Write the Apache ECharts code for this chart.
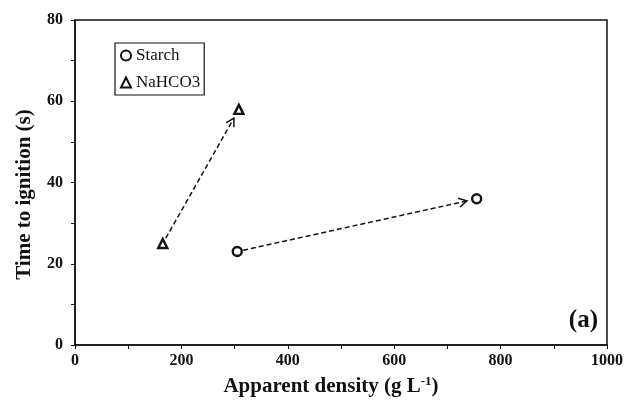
<!DOCTYPE html>
<html>
<head>
<meta charset="utf-8">
<script src="https://cdn.jsdelivr.net/npm/echarts@6/dist/echarts.min.js"></script>
<style>html,body{margin:0;padding:0;background:#fff}#c{width:627px;height:406px}</style>
</head>
<body>
<div id="c"></div>
<script>
const seriesNames = ['Starch', 'NaHCO3'];
const starchX = [305, 755];
const starchY = [23, 36];
const nahco3X = [165, 308];
const nahco3Y = [25, 58];
const xTicks = [0, 200, 400, 600, 800, 1000];
const yTicks = [0, 20, 40, 60, 80];

const font = '"Liberation Serif", "Times New Roman", serif';
const chart = echarts.init(document.getElementById('c'));

function pts(xs, ys) { return xs.map((x, i) => [x, ys[i]]); }

function arrowSeries(xs, ys) {
  return {
    type: 'custom',
    silent: true,
    z: 1,
    data: [[xs[0], ys[0], xs[1], ys[1]]],
    renderItem: function (params, api) {
      const p0 = api.coord([api.value(0), api.value(1)]);
      const p1 = api.coord([api.value(2), api.value(3)]);
      const dx = p1[0] - p0[0], dy = p1[1] - p0[1];
      const L = Math.sqrt(dx * dx + dy * dy);
      const ux = dx / L, uy = dy / L;
      const s = 6, e = 10;
      const a = [p0[0] + ux * s, p0[1] + uy * s];
      const b = [p1[0] - ux * e, p1[1] - uy * e];
      const h = 8, w = 4.5;
      const nx = -uy, ny = ux;
      const c1 = [b[0] - ux * h + nx * w, b[1] - uy * h + ny * w];
      const c2 = [b[0] - ux * h - nx * w, b[1] - uy * h - ny * w];
      return {
        type: 'group',
        children: [
          { type: 'line', shape: { x1: a[0], y1: a[1], x2: b[0], y2: b[1] },
            style: { stroke: '#111', lineWidth: 1.5, lineDash: [5, 3] } },
          { type: 'polyline', shape: { points: [c1, b, c2] },
            style: { stroke: '#111', lineWidth: 1.5, fill: null } }
        ]
      };
    }
  };
}

const axisLabelStyle = { color: '#111', fontFamily: font, fontWeight: 'bold', fontSize: 16 };

chart.setOption({
  animation: false,
  backgroundColor: '#fff',
  grid: { left: 75, right: 20, top: 20, bottom: 61, show: true, borderColor: '#111', borderWidth: 1.5, backgroundColor: 'transparent' },
  legend: {
    orient: 'vertical',
    left: 115, top: 43,
    padding: [4, 4, 4, 5],
    itemGap: 10,
    itemWidth: 10, itemHeight: 10,
    borderColor: '#111', borderWidth: 1.2,
    textStyle: { fontFamily: font, fontSize: 17, color: '#111' },
    data: seriesNames
  },
  xAxis: {
    type: 'value', min: xTicks[0], max: xTicks[xTicks.length - 1], interval: 200,
    name: 'Apparent density (g L{sup|-1})',
    nameLocation: 'middle', nameGap: 30,
    nameTextStyle: { color: '#111', fontFamily: font, fontWeight: 'bold', fontSize: 21,
      padding: [0, 20, 0, 0],
      rich: { sup: { fontFamily: font, fontWeight: 'bold', fontSize: 13, verticalAlign: 'top', padding: [0, 0, 10, 0], color: '#111' } } },
    axisLine: { show: true, lineStyle: { color: '#111', width: 1.5 } },
    axisTick: { show: true, inside: false, length: 4, lineStyle: { color: '#111', width: 1 } },
    minorTick: { show: true, splitNumber: 2, length: 4, lineStyle: { color: '#111', width: 1 } },
    axisLabel: Object.assign({ margin: 8, formatter: v => String(v) }, axisLabelStyle),
    splitLine: { show: false }
  },
  yAxis: {
    type: 'value', min: yTicks[0], max: yTicks[yTicks.length - 1], interval: 20,
    name: 'Time to ignition (s)',
    nameLocation: 'middle', nameGap: 40, nameRotate: 90,
    nameTextStyle: { color: '#111', fontFamily: font, fontWeight: 'bold', fontSize: 21,
      padding: [0, 24, 0, 0] },
    axisLine: { show: true, lineStyle: { color: '#111', width: 1.5 } },
    axisTick: { show: true, inside: false, length: 4, lineStyle: { color: '#111', width: 1 } },
    minorTick: { show: true, splitNumber: 2, length: 4, lineStyle: { color: '#111', width: 1 } },
    axisLabel: Object.assign({ margin: 12, formatter: v => String(v) }, axisLabelStyle),
    splitLine: { show: false }
  },
  graphic: [{
    type: 'text', right: 29, top: 308,
    style: { text: '(a)', fontFamily: font, fontWeight: 'bold', fontSize: 25, fill: '#111' }
  }],
  series: [
    arrowSeries(starchX, starchY),
    arrowSeries(nahco3X, nahco3Y),
    {
      name: seriesNames[0], type: 'scatter', z: 3,
      symbol: 'circle', symbolSize: 9,
      itemStyle: { color: '#fff', borderColor: '#111', borderWidth: 2.4, opacity: 1 },
      data: pts(starchX, starchY)
    },
    {
      name: seriesNames[1], type: 'scatter', z: 3,
      symbol: 'triangle', symbolSize: 9,
      itemStyle: { color: '#fff', borderColor: '#111', borderWidth: 2.4, opacity: 1 },
      data: pts(nahco3X, nahco3Y)
    }
  ]
});
</script>
</body>
</html>
